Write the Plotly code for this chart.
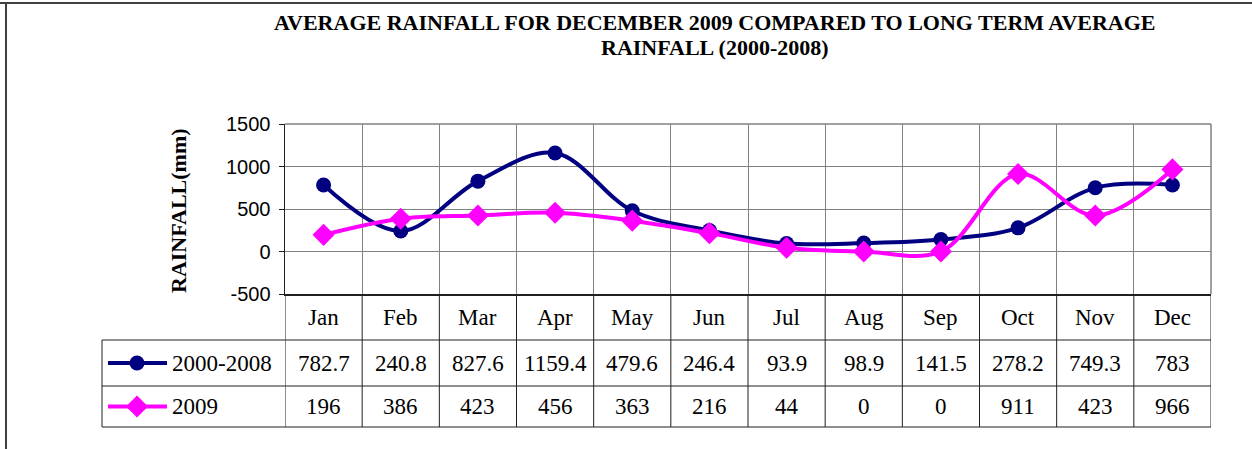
import plotly.graph_objects as go

months = ["Jan", "Feb", "Mar", "Apr", "May", "Jun", "Jul", "Aug", "Sep", "Oct", "Nov", "Dec"]
series_names = ["2000-2008", "2009"]
avg_2000_2008 = [782.7, 240.8, 827.6, 1159.4, 479.6, 246.4, 93.9, 98.9, 141.5, 278.2, 749.3, 783]
rain_2009 = [196, 386, 423, 456, 363, 216, 44, 0, 0, 911, 423, 966]
y_ticks = [-500, 0, 500, 1000, 1500]

W, H = 1252, 449
def px(x):
    return x / W
def py(y):
    return 1 - y / H

SERIF = "Liberation Serif, Times New Roman, serif"
SANS = "Liberation Sans, Arial, sans-serif"
NAVY = "#000080"
MAGENTA = "#FF00FF"
GRID = "#808080"

# pixel layout
PL, PR = 285, 1211
PT, PB = 124, 294
ROW1, ROW2, TBOT = 340, 386, 427
TLEFT = 102

fig = go.Figure()

fig.add_trace(go.Scatter(
    x=list(range(len(months))), y=avg_2000_2008, name=series_names[0],
    mode="lines+markers", line=dict(color=NAVY, width=4, shape="spline", smoothing=1),
    marker=dict(symbol="circle", size=15, color=NAVY), showlegend=False))
fig.add_trace(go.Scatter(
    x=list(range(len(months))), y=rain_2009, name=series_names[1],
    mode="lines+markers", line=dict(color=MAGENTA, width=4, shape="spline", smoothing=1),
    marker=dict(symbol="diamond", size=17, color=MAGENTA), showlegend=False))

# legend keys in table (pixel overlay axis)
key_rows = [(ROW1 + ROW2) / 2, (ROW2 + TBOT) / 2]
key_styles = [(NAVY, "circle", 15), (MAGENTA, "diamond", 17)]
for (col, sym, sz), yy in zip(key_styles, key_rows):
    fig.add_trace(go.Scatter(
        x=[108, 167], y=[yy, yy], mode="lines", line=dict(color=col, width=4),
        xaxis="x2", yaxis="y2", showlegend=False, hoverinfo="skip"))
    fig.add_trace(go.Scatter(
        x=[137], y=[yy], mode="markers", marker=dict(symbol=sym, size=sz, color=col),
        xaxis="x2", yaxis="y2", showlegend=False, hoverinfo="skip"))

shapes = []
line_dark = dict(color="#202020", width=1)
# table vertical lines
for i in range(len(months) + 1):
    shapes.append(dict(type="line", xref="x", yref="paper", x0=i - 0.5, x1=i - 0.5,
                       y0=py(PB), y1=py(TBOT), line=line_dark))
# legend column left edge
shapes.append(dict(type="line", xref="paper", yref="paper", x0=px(TLEFT), x1=px(TLEFT),
                   y0=py(ROW1), y1=py(TBOT), line=line_dark))
# horizontal table lines
for yy in [ROW1, ROW2, TBOT]:
    shapes.append(dict(type="line", xref="paper", yref="paper", x0=px(TLEFT), x1=px(PR),
                       y0=py(yy), y1=py(yy), line=line_dark))
# plot area top/right border
shapes.append(dict(type="line", xref="paper", yref="paper", x0=px(PL), x1=px(PR),
                   y0=py(PT), y1=py(PT), line=dict(color=GRID, width=1.5), layer="below"))
shapes.append(dict(type="line", xref="paper", yref="paper", x0=px(PR), x1=px(PR),
                   y0=py(PT), y1=py(PB), line=dict(color=GRID, width=1.5), layer="below"))
# outer frame
shapes.append(dict(type="line", xref="paper", yref="paper", x0=0, x1=1,
                   y0=py(3), y1=py(3), line=dict(color="#404040", width=2)))
shapes.append(dict(type="line", xref="paper", yref="paper", x0=px(6), x1=px(6),
                   y0=py(3), y1=0, line=dict(color="#404040", width=2)))

annotations = []
cell_font = dict(family=SERIF, size=23, color="black")
for i, m in enumerate(months):
    annotations.append(dict(x=i, xref="x", y=py((PB + ROW1) / 2), yref="paper", text=m,
                            showarrow=False, font=cell_font, xanchor="center", yanchor="middle"))
    annotations.append(dict(x=i, xref="x", y=py(key_rows[0]), yref="paper", text=f"{avg_2000_2008[i]:g}",
                            showarrow=False, font=cell_font, xanchor="center", yanchor="middle"))
    annotations.append(dict(x=i, xref="x", y=py(key_rows[1]), yref="paper", text=f"{rain_2009[i]:g}",
                            showarrow=False, font=cell_font, xanchor="center", yanchor="middle"))
for name, yy in zip(series_names, key_rows):
    annotations.append(dict(x=px(170), xref="paper", y=py(yy), yref="paper", text=name,
                            showarrow=False, font=cell_font, xanchor="left", yanchor="middle"))
# y axis title
annotations.append(dict(x=px(178), xref="paper", y=py((PT + PB) / 2 + 1), yref="paper",
                        text="<b>RAINFALL(mm)</b>", textangle=-90, showarrow=False,
                        font=dict(family=SERIF, size=22, color="black"),
                        xanchor="center", yanchor="middle"))
# title
annotations.append(dict(x=px(715), xref="paper", y=py(22), yref="paper",
                        text="<b>AVERAGE RAINFALL FOR DECEMBER 2009 COMPARED TO LONG TERM AVERAGE</b>",
                        showarrow=False, font=dict(family=SERIF, size=22, color="black"),
                        xanchor="center", yanchor="middle"))
annotations.append(dict(x=px(715), xref="paper", y=py(48), yref="paper",
                        text="<b>RAINFALL (2000-2008)</b>",
                        showarrow=False, font=dict(family=SERIF, size=22, color="black"),
                        xanchor="center", yanchor="middle"))

fig.update_layout(
    width=W, height=H, margin=dict(l=0, r=0, t=0, b=0, pad=0),
    paper_bgcolor="white", plot_bgcolor="rgba(0,0,0,0)",
    showlegend=False,
    xaxis=dict(domain=[px(PL), px(PR)], range=[-0.5, 11.5], tickmode="linear", tick0=-0.5, dtick=1,
               showticklabels=False, ticks="", showgrid=True, gridcolor=GRID, gridwidth=1,
               showline=True, linecolor="#202020", linewidth=2, zeroline=False, fixedrange=True,
               automargin=False),
    yaxis=dict(domain=[py(PB), py(PT)], range=[-500, 1500], tickvals=y_ticks,
               ticktext=[str(v) for v in y_ticks],
               ticks="outside", ticklen=5, tickcolor="#202020", ticklabelstandoff=4,
               tickfont=dict(family=SANS, size=20, color="black"),
               showgrid=True, gridcolor=GRID, gridwidth=1, zeroline=False,
               showline=True, linecolor="#202020", linewidth=1.5, fixedrange=True,
               automargin=False),
    xaxis2=dict(domain=[0, 1], range=[0, W], visible=False, fixedrange=True, anchor="y2",
                automargin=False),
    yaxis2=dict(domain=[0, 1], range=[H, 0], visible=False, fixedrange=True, anchor="x2",
                automargin=False),
    shapes=shapes, annotations=annotations,
)

fig.write_html("out.html", config={"displayModeBar": False, "staticPlot": True},
               post_script="document.body.style.margin='0';")
